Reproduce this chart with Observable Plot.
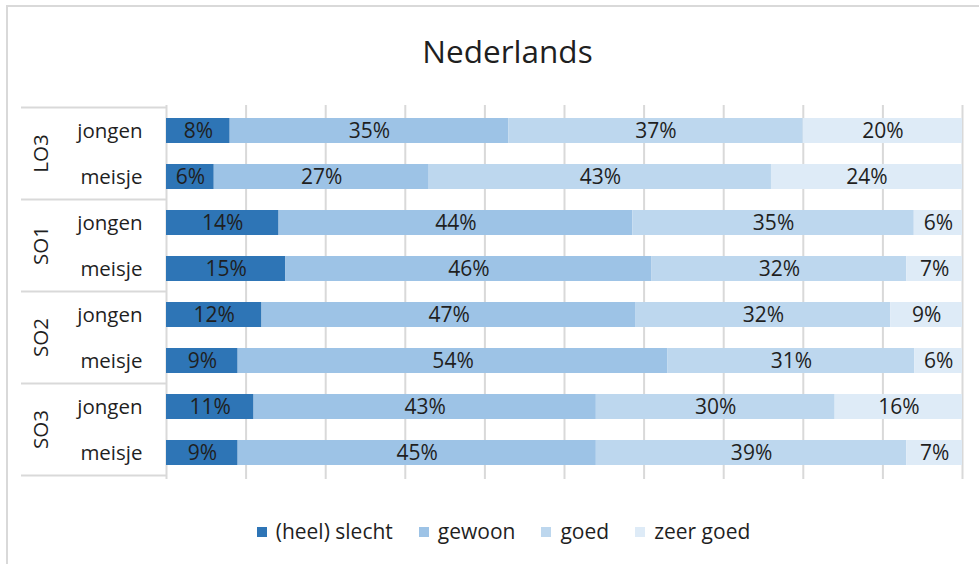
<!DOCTYPE html>
<html>
<head>
<meta charset="utf-8">
<script src="https://cdn.jsdelivr.net/npm/d3@7"></script>
<script src="https://cdn.jsdelivr.net/npm/@observablehq/plot@0.6"></script>
<style>
  html, body { margin: 0; padding: 0; background: #fff; overflow: hidden; }
  #wrap { position: relative; width: 979px; height: 564px; overflow: hidden; font-family: "Open Sans", sans-serif; color: #1f1f1f; }
  #frame { position: absolute; left: 6px; top: 5px; width: 1100px; height: 700px; border: 2px solid #d9d9d9; box-sizing: border-box; }
  #chart { position: absolute; left: 0; top: 0; }
  #title { position: absolute; left: 0; width: 1015px; top: 35px; text-align: center; font-size: 31.5px; line-height: 32px; }
  #legend { position: absolute; left: 0; width: 1007px; top: 519px; display: flex; justify-content: center; font-size: 21px; line-height: 24px; }
  .item { display: flex; align-items: center; margin: 0 13px; }
  .sw { width: 10px; height: 10px; margin-right: 9px; margin-top: 1px; }
</style>
</head>
<body>
<div id="wrap">
  <div id="frame"></div>
  <div id="chart"></div>
  <div id="title">Nederlands</div>
  <div id="legend"></div>
</div>
<script>
// ---- data ----
const groups = ["LO3", "SO1", "SO2", "SO3"];
const genders = ["jongen", "meisje"];
const categories = ["(heel) slecht", "gewoon", "goed", "zeer goed"];
const colors = ["#2e75b6", "#9dc3e6", "#bdd7ee", "#deebf7"];
// rows in order: LO3 jongen, LO3 meisje, SO1 jongen, SO1 meisje, SO2 jongen, SO2 meisje, SO3 jongen, SO3 meisje
const slecht   = [8, 6, 14, 15, 12, 9, 11, 9];
const gewoon   = [35, 27, 44, 46, 47, 54, 43, 45];
const goed     = [37, 43, 35, 32, 32, 31, 30, 39];
const zeerGoed = [20, 24, 6, 7, 9, 6, 16, 7];
const xTicks = [0, 0.1, 0.2, 0.3, 0.4, 0.5, 0.6, 0.7, 0.8, 0.9, 1];

// ---- build table ----
const series = [slecht, gewoon, goed, zeerGoed];
const rowKeys = [];
groups.forEach(g => genders.forEach(s => rowKeys.push(g + "|" + s)));
const data = [];
rowKeys.forEach((k, i) => {
  categories.forEach((c, j) => {
    data.push({ key: k, cat: c, value: series[j][i] });
  });
});

const textColor = "#1f1f1f";
const plot = Plot.plot({
  width: 979,
  height: 564,
  marginLeft: 166,
  marginRight: 17,
  marginTop: 105,
  marginBottom: 85,
  style: { fontFamily: "Open Sans, sans-serif", background: "transparent", overflow: "visible" },
  x: { domain: [0, 1], axis: null },
  y: { domain: rowKeys, paddingInner: 0.45, paddingOuter: 0.225, label: null },
  color: { domain: categories, range: colors },
  marks: [
    Plot.ruleX(xTicks, { stroke: "#d9d9d9", strokeWidth: 2 }),
    Plot.barX(data, Plot.stackX({ x: "value", y: "key", fill: "cat", z: "cat", offset: "normalize", order: categories })),
    Plot.text(data, Plot.stackX({ x: "value", y: "key", z: "cat", offset: "normalize", order: categories,
      text: d => d.value + "%", fill: textColor, fontSize: 21 })),
    Plot.axisY({ tickSize: 0, tickPadding: 24, tickFormat: d => d.split("|")[1], fontSize: 20.5, fill: textColor, label: null })
  ]
});
document.getElementById("chart").appendChild(plot);

// ---- group dividers and group labels from the y scale ----
const y = plot.scale("y");
const svg = d3.select(plot);
const layer = svg.append("g");
groups.forEach((g, gi) => {
  const k1 = g + "|" + genders[0];
  const k2 = g + "|" + genders[genders.length - 1];
  const c1 = y.apply(k1) + y.bandwidth / 2;
  const c2 = y.apply(k2) + y.bandwidth / 2;
  const top = c1 - y.step / 2;
  const bottom = c2 + y.step / 2;
  layer.append("line").attr("x1", 21).attr("x2", 166).attr("y1", top).attr("y2", top)
    .attr("stroke", "#d9d9d9").attr("stroke-width", 2);
  if (gi === groups.length - 1) {
    layer.append("line").attr("x1", 21).attr("x2", 166).attr("y1", bottom).attr("y2", bottom)
      .attr("stroke", "#d9d9d9").attr("stroke-width", 2);
  }
  const mid = (top + bottom) / 2;
  layer.append("text")
    .attr("transform", `translate(48,${mid}) rotate(-90)`)
    .attr("text-anchor", "middle")
    .attr("font-size", 20.5)
    .attr("fill", textColor)
    .text(g);
});

// ---- legend ----
const legend = d3.select("#legend");
categories.forEach((c, i) => {
  const it = legend.append("div").attr("class", "item");
  it.append("div").attr("class", "sw").style("background", colors[i]);
  it.append("span").text(c);
});
</script>
</body>
</html>
